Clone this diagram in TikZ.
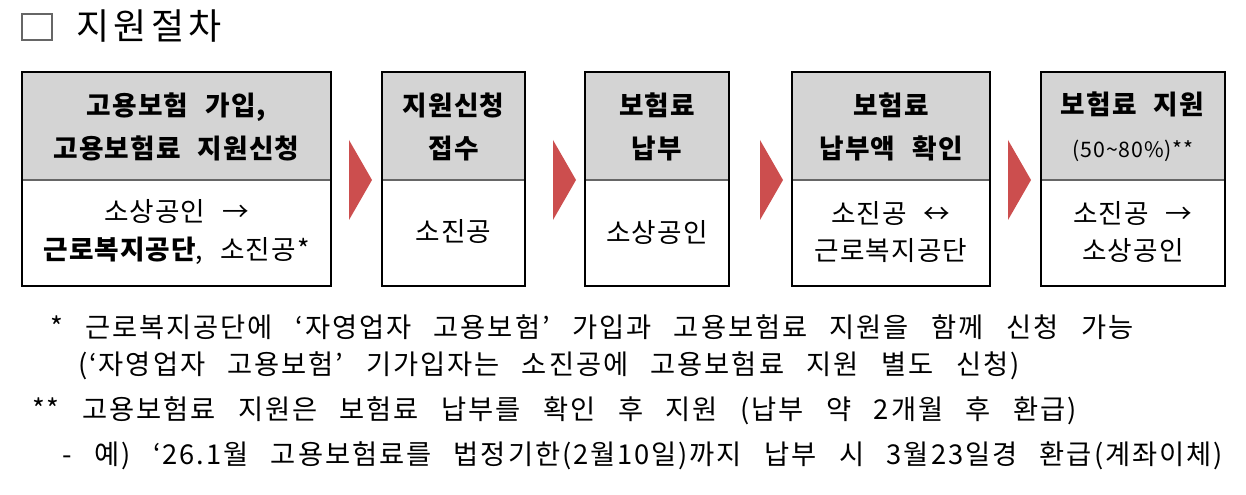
\documentclass[tikz,border=0pt]{standalone}
\usepackage{fontspec}
\setmainfont[LetterSpace=4,WordSpace=2.4]{Noto Sans CJK KR}
\newfontfamily\footfont[LetterSpace=7,WordSpace=2.8]{Noto Sans CJK KR}
\newfontfamily\titlefont[LetterSpace=12]{Noto Sans CJK KR}
\definecolor{arr}{RGB}{204,78,78}
\begin{document}
\begin{tikzpicture}[x=0.75pt,y=-0.75pt,
  box/.style={draw=black,line width=2.2pt},
  tx/.style={font=\fontsize{20}{28}\selectfont,align=center,inner sep=0pt},
  ft/.style={font=\footfont\fontsize{20.5}{20}\selectfont,anchor=west,inner sep=0pt}]
\useasboundingbox (0,0) rectangle (1246,495);
\draw[line width=1pt,draw=black!60] (22,14) rectangle (52,40);
\node[anchor=west,inner sep=0pt,font=\titlefont\fontsize{27}{30}\selectfont] (title) at (76,26) {지원절차};
\foreach \n/\a/\b in {1/22/331,2/382/525,3/585/729,4/792/990,5/1041/1225}{
  \fill[black!17] (\a,72) rectangle (\b,180);
  \draw[line width=1pt,black!60] (\a,180) -- (\b,180);
  \draw[box] (\a,72) rectangle (\b,286);
  \coordinate (h\n) at ({(\a+\b)/2},127);
  \coordinate (b\n) at ({(\a+\b)/2},232);
}
\node[tx,font=\bfseries\fontsize{20}{32}\selectfont] (t1) at (h1) {고용보험 가입,\\고용보험료 지원신청};
\node[tx,font=\bfseries\fontsize{20}{32}\selectfont] (t2) at (h2) {지원신청\\접수};
\node[tx,font=\bfseries\fontsize{20}{32}\selectfont] (t3) at (h3) {보험료\\납부};
\node[tx,font=\bfseries\fontsize{20}{32}\selectfont] (t4) at (h4) {보험료\\납부액 확인};
\node[tx,font=\fontsize{20}{32}\selectfont] (t5) at (h5) {\textbf{보험료 지원}\\{\fontsize{16}{16}\selectfont (50\textasciitilde80\%)**}};
\node[tx,font=\fontsize{20}{28}\selectfont] (c1) at (b1) {소상공인 →\\\textbf{근로복지공단}, 소진공*};
\node[tx] (c2) at (b2) {소진공};
\node[tx] (c3) at (b3) {소상공인};
\node[tx,font=\fontsize{20}{28}\selectfont] (c4) at (b4) {소진공 ↔\\근로복지공단};
\node[tx,font=\fontsize{20}{28}\selectfont] (c5) at (b5) {소진공 →\\소상공인};
\foreach \x in {349,553,760,1008}{\fill[arr] (\x,140) -- (\x+23,180) -- (\x,220) -- cycle;}
\node[ft] (f1) at (50,327) {*\ 근로복지공단에 ‘자영업자 고용보험’ 가입과 고용보험료 지원을 함께 신청 가능};
\node[ft] (f2) at (78,366) {(‘자영업자 고용보험’ 기가입자는 소진공에 고용보험료 지원 별도 신청)};
\node[ft] (f3) at (32,411) {**\ 고용보험료 지원은 보험료 납부를 확인 후 지원 (납부 약 2개월 후 환급)};
\node[ft] (f4) at (62,456) {-\ 예) ‘26.1월 고용보험료를 법정기한(2월10일)까지 납부 시 3월23일경 환급(계좌이체)};
\end{tikzpicture}
\end{document}
